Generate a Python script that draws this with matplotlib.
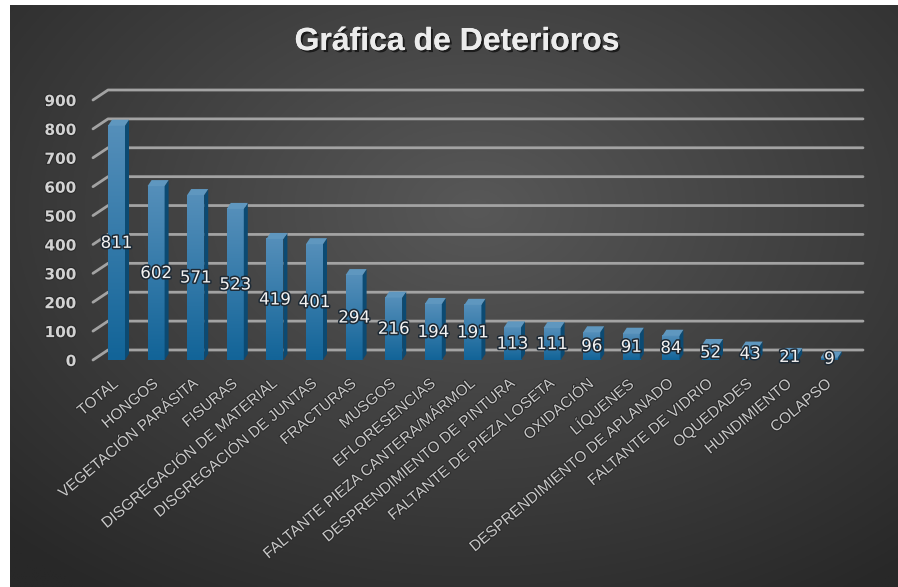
import numpy as np
import matplotlib
matplotlib.use("Agg")
import matplotlib.pyplot as plt
import matplotlib.patheffects as pe
from matplotlib.patches import Polygon, Rectangle

categories = ["TOTAL", "HONGOS", "VEGETACIÓN PARÁSITA", "FISURAS",
              "DISGREGACIÓN DE MATERIAL", "DISGREGACIÓN DE JUNTAS", "FRACTURAS",
              "MUSGOS", "EFLORESENCIAS", "FALTANTE PIEZA CANTERA/MÁRMOL",
              "DESPRENDIMIENTO DE PINTURA", "FALTANTE DE PIEZA LOSETA",
              "OXIDACIÓN", "LÍQUENES", "DESPRENDIMIENTO DE APLANADO",
              "FALTANTE DE VIDRIO", "OQUEDADES", "HUNDIMIENTO", "COLAPSO"]
values = [811, 602, 571, 523, 419, 401, 294, 216, 194, 191, 113, 111, 96, 91, 84, 52, 43, 21, 9]
yticks = [0, 100, 200, 300, 400, 500, 600, 700, 800, 900]
title = "Gráfica de Deterioros"

W, H = 898, 587
fig = plt.figure(figsize=(W / 100, H / 100), dpi=100)
fig.patch.set_facecolor("#2a2a2a")

# radial gradient background
bg = fig.add_axes([0, 0, 1, 1])
yy, xx = np.mgrid[0:1:300j, 0:1:460j]
r = np.sqrt(((xx - 0.52) / 0.75) ** 2 + ((yy - 0.35) / 0.8) ** 2)
r = np.clip(r, 0, 1)
c0 = np.array([0x58, 0x58, 0x58]) / 255
c1 = np.array([0x28, 0x28, 0x28]) / 255
img = c0[None, None, :] * (1 - r[..., None]) + c1[None, None, :] * r[..., None]
bg.imshow(img, aspect="auto", extent=[10 / W, 1.01, 0, 1 - 5 / H], origin="upper")
bg.add_patch(Rectangle((0, 0), 10 / W, 1, facecolor="white", edgecolor="none"))
bg.add_patch(Rectangle((0, 1 - 5 / H), 1, 5 / H + 0.01, facecolor="white", edgecolor="none"))
bg.set_xlim(0, 1)
bg.set_ylim(0, 1)
bg.set_axis_off()

# main axes (front plane)
left_px, right_px, top_px, bot_px = 93, 848, 100, 360
ax = fig.add_axes([left_px / W, (H - bot_px) / H, (right_px - left_px) / W, (bot_px - top_px) / H])
ax.patch.set_alpha(0)
n = len(values)
step_px = 39.6
x0 = (left_px - 116.5) / step_px
x1 = (right_px - 116.5) / step_px
for s in ax.spines.values():
    s.set_visible(False)

ypx = (bot_px - top_px) / 900.0
dx = 15 / step_px
dy = 10 / ypx
grid_col = "#a3a3a3"
for t in yticks:
    ax.plot([x0, x0 + dx, x1 + dx], [t, t + dy, t + dy], color=grid_col, lw=2.0,
            clip_on=False, zorder=1, solid_capstyle="round")

# bars
w = 17 / step_px
bdx = 4 / step_px
bdy = 6 / ypx
top_c = np.array([0x55, 0x8f, 0xba]) / 255
bot_c = np.array([0x12, 0x64, 0x98]) / 255
grad = np.linspace(0, 1, 100)[:, None, None]
gimg = top_c[None, None, :] * (1 - grad) + bot_c[None, None, :] * grad
for i, v in enumerate(values):
    xl, xr = i - w / 2, i + w / 2
    ax.imshow(gimg, extent=[xl, xr, 0, v], aspect="auto", origin="upper", zorder=3)
    side = Polygon([[xr, 0], [xr + bdx, bdy], [xr + bdx, v + bdy], [xr, v]],
                   closed=True, facecolor="#0c4a72", edgecolor="none", zorder=3)
    ax.add_patch(side)
    topf = Polygon([[xl, v], [xl + bdx, v + bdy], [xr + bdx, v + bdy], [xr, v]],
                   closed=True, facecolor="#5f97bf", edgecolor="none", zorder=3)
    ax.add_patch(topf)
    ax.text(i, v / 2, str(v), ha="center", va="center", fontsize=12,
            color="#f2f2f2", family="DejaVu Sans", zorder=5,
            path_effects=[pe.withStroke(linewidth=2.2, foreground="#1e2a35")])
ax.set_xlim(x0, x1)
ax.set_ylim(0, 900)

ax.set_yticks(yticks)
ax.set_yticklabels([str(t) for t in yticks], fontsize=11, fontweight="bold",
                   color="#d2d2d2", family="DejaVu Sans")
ax.tick_params(axis="y", length=0, pad=12)
ax.set_xticks(range(n))
ax.set_xticklabels(categories, rotation=40, ha="right", va="center",
                   rotation_mode="anchor", fontsize=11, color="#c8c8c8",
                   family="Liberation Sans")
ax.tick_params(axis="x", length=0, pad=16)
for lab in ax.get_xticklabels() + ax.get_yticklabels():
    lab.set_path_effects([pe.withStroke(linewidth=1.5, foreground="#2a2a2a")])

fig.text(457 / W, 1 - 42 / H, title, ha="center", va="center", fontsize=23,
         fontweight="bold", color="#ececec", family="Liberation Sans",
         path_effects=[pe.withSimplePatchShadow(offset=(1.5, -1.5), shadow_rgbFace="#111111", alpha=0.8),
                       pe.Normal()])

fig.savefig("out.png", dpi=100)
